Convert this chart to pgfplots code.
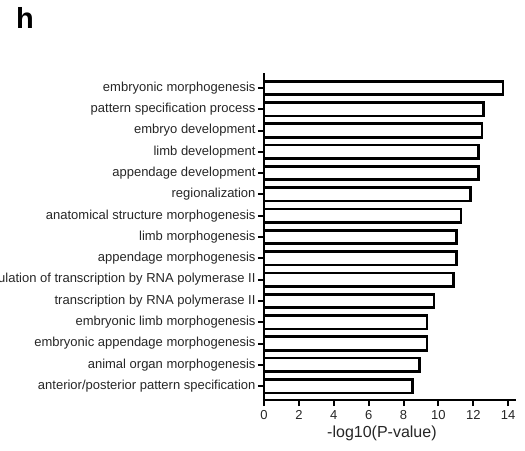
\documentclass[border=0pt]{standalone}
\usepackage{fontspec}
\setmainfont{Liberation Sans}
\usepackage{pgfplots}
\pgfplotsset{compat=1.18}
\definecolor{txt}{HTML}{262626}
\begin{document}
\begin{tikzpicture}[x=1pt,y=1pt]
\node[anchor=base west, font=\bfseries\fontsize{29}{29}\selectfont, inner sep=0pt, text=black] at (16,450-29) {h};
\begin{axis}[
  at={(264pt,50pt)}, anchor=south west,
  scale only axis, width=252pt, height=327pt,
  xmin=0, xmax=14.45, ymin=-0.65, ymax=14.7,
  enlargelimits=false, clip=false,
  axis x line=bottom, axis y line=left,
  axis line style={line width=2pt, -, black},
  xtick={0,2,...,14}, ytick={0,...,14},
  /pgf/number format/assume math mode=true,
  yticklabels={anterior/posterior pattern specification, animal organ morphogenesis, embryonic appendage morphogenesis, embryonic limb morphogenesis, transcription by RNA polymerase II, positive regulation of transcription by RNA polymerase II, appendage morphogenesis, limb morphogenesis, anatomical structure morphogenesis, regionalization, appendage development, limb development, embryo development, pattern specification process, embryonic morphogenesis},
  tick align=outside, major tick length=6pt,
  tick style={line width=2pt, black},
  ticklabel style={font=\fontsize{13}{15}\selectfont, text=txt},
  yticklabel style={xshift=1pt},
  xticklabel style={yshift=-1pt},
  xlabel={-log10(P-value)},
  xlabel style={font=\fontsize{16}{18}\selectfont, text=txt, at={(axis description cs:0.468,0)}, anchor=north, yshift=-22pt},
  xbar, bar width=0.63,
]
\addplot[draw=black, fill=white, line width=2.7pt] coordinates {
(8.5,0) (8.9,1) (9.35,2) (9.35,3) (9.75,4) (10.85,5) (11.05,6) (11.05,7) (11.3,8) (11.85,9) (12.3,10) (12.3,11) (12.5,12) (12.6,13) (13.7,14)
};
\end{axis}
\pgfresetboundingbox
\useasboundingbox (0,0) rectangle (525,450);
\end{tikzpicture}
\end{document}
